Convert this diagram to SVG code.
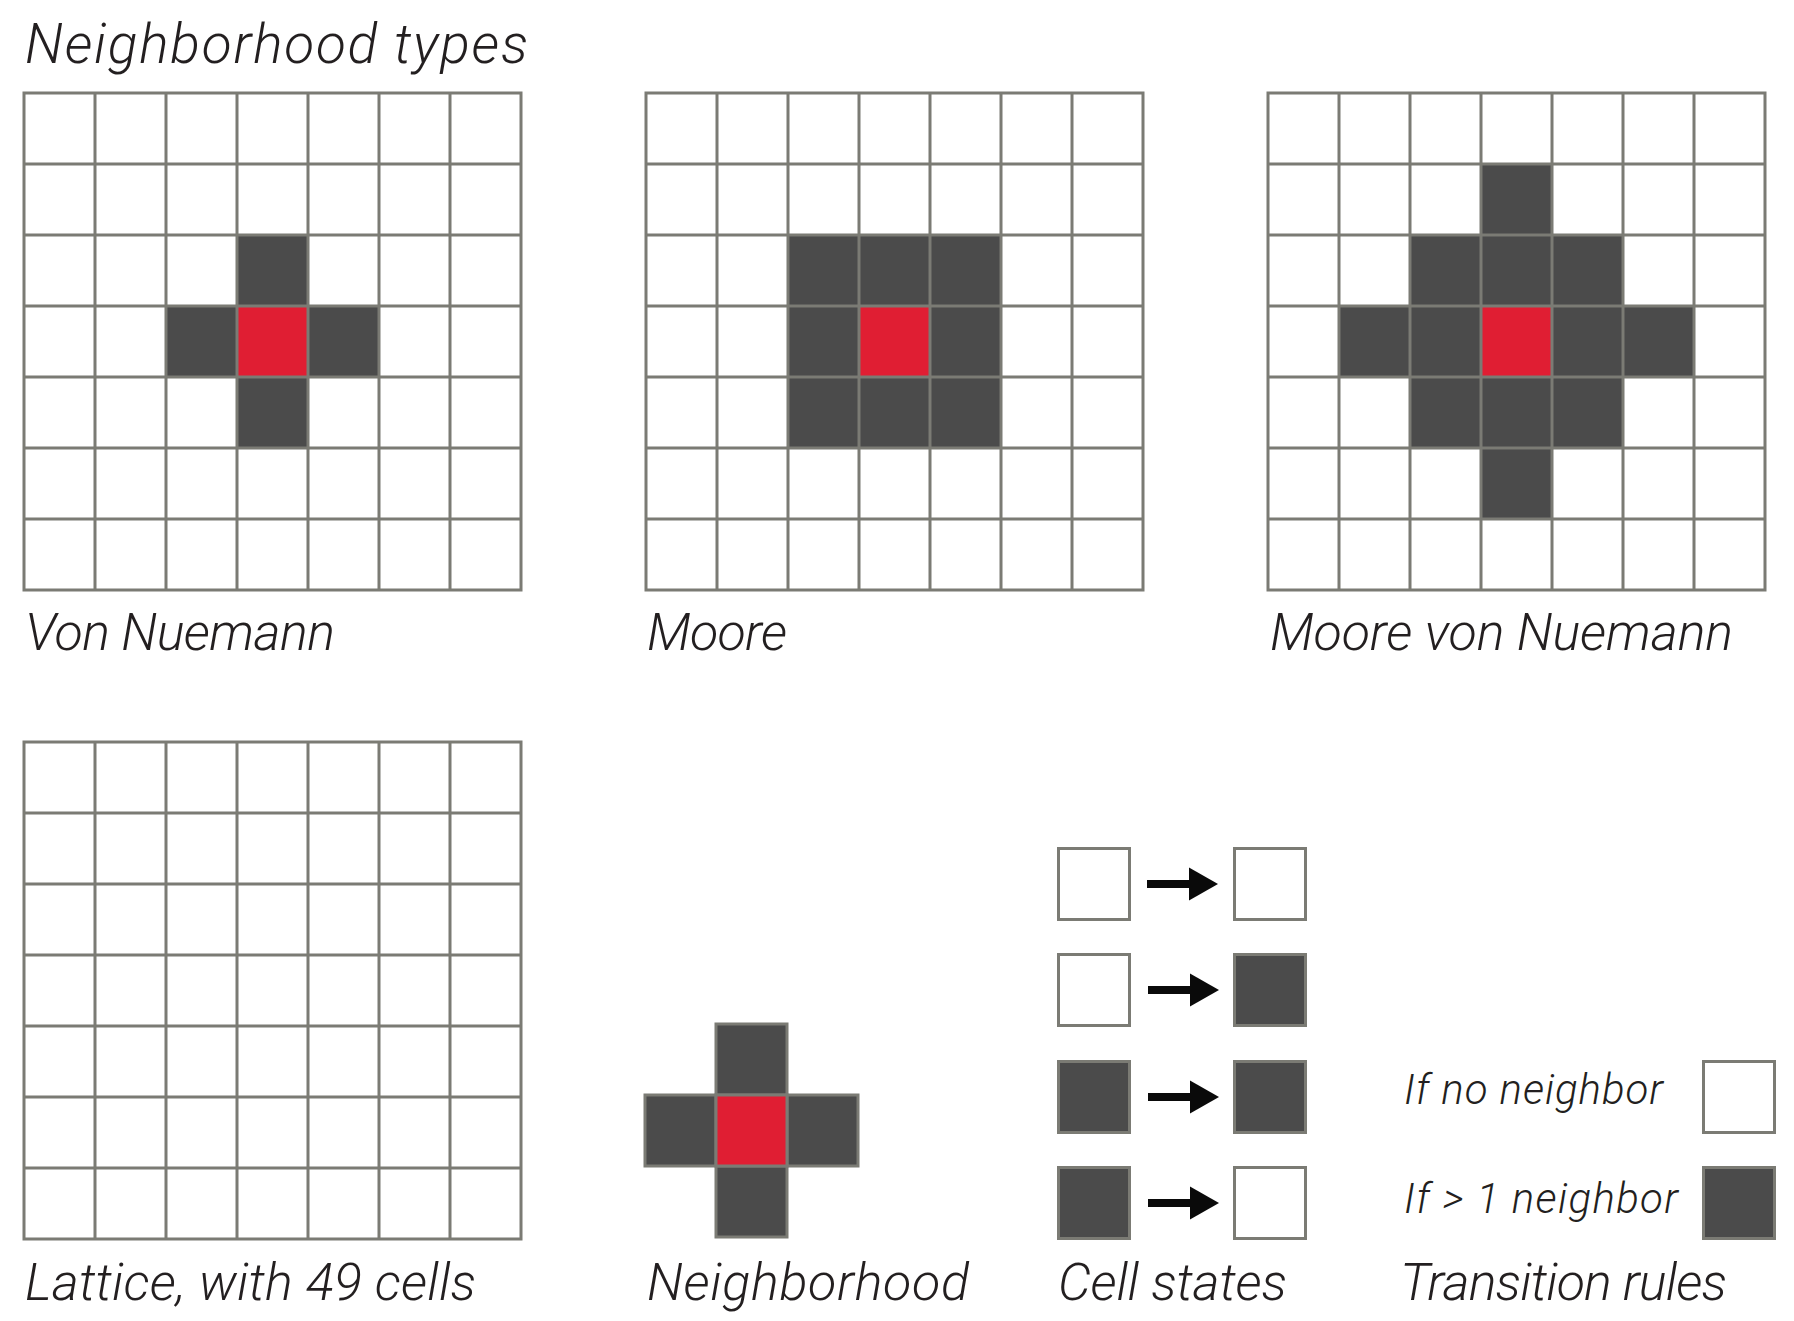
<svg xmlns="http://www.w3.org/2000/svg" xmlns:xlink="http://www.w3.org/1999/xlink" width="1794" height="1321" viewBox="0 0 1794 1321">
<style>
.lbl{font-family:Roboto,"Liberation Sans",sans-serif;font-style:italic;font-weight:300;fill:#231f20}
.big{font-size:52px}
.head{font-size:55px}
.small{font-size:42px}
.grid{fill:none;stroke:#7b7b74;stroke-width:3;stroke-linecap:square}
.bg{fill:#ffffff}
.dk{fill:#4b4b4b}
.rd{fill:#e01e33}
.cell{stroke:#7b7b74;stroke-width:3}
.wh{fill:#ffffff}
.arrow{stroke:#0a0a0a;stroke-width:8;fill:none}
</style>
<defs>
<path id="gl" class="grid" d="M0,0V497M71,0V497M142,0V497M213,0V497M284,0V497M355,0V497M426,0V497M497,0V497M0,0H497M0,71H497M0,142H497M0,213H497M0,284H497M0,355H497M0,426H497M0,497H497"/>
<marker id="ah" markerUnits="userSpaceOnUse" markerWidth="30" markerHeight="34" refX="1" refY="17" orient="auto">
<path d="M0,0.5L29,17L0,33.5z" fill="#0a0a0a"/>
</marker>
</defs>
<rect width="1794" height="1321" fill="#ffffff"/>

<g id="title">
<text class="lbl head" x="25" y="63" textLength="503">Neighborhood types</text>
</g>

<g id="grid-von-neumann" transform="translate(24,93)">
<rect class="bg" width="497" height="497"/>
<rect class="dk" x="213" y="142" width="71" height="71"/>
<rect class="dk" x="142" y="213" width="71" height="71"/>
<rect class="rd" x="213" y="213" width="71" height="71"/>
<rect class="dk" x="284" y="213" width="71" height="71"/>
<rect class="dk" x="213" y="284" width="71" height="71"/>
<use xlink:href="#gl"/>
<text class="lbl big" x="1" y="557" textLength="310">Von Nuemann</text>
</g>

<g id="grid-moore" transform="translate(646,93)">
<rect class="bg" width="497" height="497"/>
<rect class="dk" x="142" y="142" width="213" height="213"/>
<rect class="rd" x="213" y="213" width="71" height="71"/>
<use xlink:href="#gl"/>
<text class="lbl big" x="1" y="557" textLength="140">Moore</text>
</g>

<g id="grid-moore-von-neumann" transform="translate(1268,93)">
<rect class="bg" width="497" height="497"/>
<rect class="dk" x="213" y="71" width="71" height="71"/>
<rect class="dk" x="142" y="142" width="213" height="71"/>
<rect class="dk" x="71" y="213" width="355" height="71"/>
<rect class="rd" x="213" y="213" width="71" height="71"/>
<rect class="dk" x="142" y="284" width="213" height="71"/>
<rect class="dk" x="213" y="355" width="71" height="71"/>
<use xlink:href="#gl"/>
<text class="lbl big" x="2" y="557" textLength="463">Moore von Nuemann</text>
</g>

<g id="lattice" transform="translate(24,742)">
<rect class="bg" width="497" height="497"/>
<use xlink:href="#gl"/>
<text class="lbl big" x="1" y="558" textLength="451">Lattice, with 49 cells</text>
</g>

<g id="neighborhood">
<rect class="dk cell" x="716" y="1024" width="71" height="71"/>
<rect class="dk cell" x="645" y="1095" width="71" height="71"/>
<rect class="dk cell" x="787" y="1095" width="71" height="71"/>
<rect class="dk cell" x="716" y="1166" width="71" height="71"/>
<rect class="rd cell" x="716" y="1095" width="71" height="71"/>
<text class="lbl big" x="647" y="1300" textLength="322">Neighborhood</text>
</g>

<g id="cell-states">
<rect class="wh cell" x="1058.5" y="848.5" width="71" height="71"/>
<rect class="wh cell" x="1234.5" y="848.5" width="71" height="71"/>
<rect class="wh cell" x="1058.5" y="954.5" width="71" height="71"/>
<rect class="dk cell" x="1234.5" y="954.5" width="71" height="71"/>
<rect class="dk cell" x="1058.5" y="1061.5" width="71" height="71"/>
<rect class="dk cell" x="1234.5" y="1061.5" width="71" height="71"/>
<rect class="dk cell" x="1058.5" y="1167.5" width="71" height="71"/>
<rect class="wh cell" x="1234.5" y="1167.5" width="71" height="71"/>
<text class="lbl big" x="1058" y="1300" textLength="229">Cell states</text>
</g>

<g id="connectors">
<line class="arrow" x1="1147" y1="884" x2="1190" y2="884" marker-end="url(#ah)"/>
<line class="arrow" x1="1148" y1="990" x2="1191" y2="990" marker-end="url(#ah)"/>
<line class="arrow" x1="1148" y1="1097" x2="1191" y2="1097" marker-end="url(#ah)"/>
<line class="arrow" x1="1148" y1="1203" x2="1191" y2="1203" marker-end="url(#ah)"/>
</g>

<g id="transition-rules">
<text class="lbl small" x="1404" y="1104" textLength="259">If no neighbor</text>
<rect class="wh cell" x="1703.5" y="1061.5" width="71" height="71"/>
<text class="lbl small" x="1404" y="1213" textLength="274">If &gt; 1 neighbor</text>
<rect class="dk cell" x="1703.5" y="1167.5" width="71" height="71"/>
<text class="lbl big" x="1400" y="1300" textLength="327">Transition rules</text>
</g>
</svg>
